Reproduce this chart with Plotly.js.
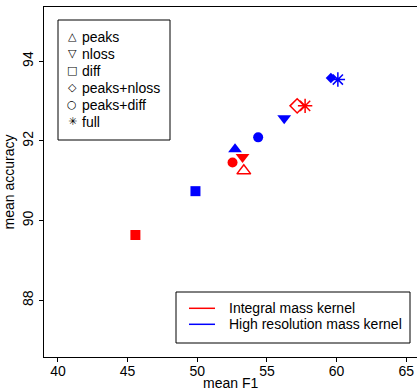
<!DOCTYPE html>
<html>
<head>
<meta charset="utf-8">
<script src="https://cdn.plot.ly/plotly-3.0.1.min.js"></script>
<style>html,body{margin:0;padding:0;background:#fff;}#chart{width:417px;height:391px;}</style>
</head>
<body>
<div id="chart"></div>
<script>
// ---- data ----
const methods = ['peaks', 'nloss', 'diff', 'peaks+nloss', 'peaks+diff', 'full'];
const integralF1  = [53.34, 53.25, 45.56, 57.17, 52.53, 57.74];
const integralAcc = [91.25, 91.60, 89.64, 92.88, 91.46, 92.88];
const highresF1   = [52.71, 56.24, 49.87, 59.59, 54.37, 60.09];
const highresAcc  = [91.79, 92.57, 90.74, 93.58, 92.09, 93.54];
const kernelNames = ['Integral mass kernel', 'High resolution mass kernel'];
const xTicks = [40, 45, 50, 55, 60, 65];
const yTicks = [88, 90, 92, 94];
const xTitle = 'mean F1';
const yTitle = 'mean accuracy';
const legendGlyphs = ['\u25B3', '\u25BD', '\u25A1', '\u25C7', '\u25CB', '\u2733'];

// ---- styles ----
const RED = '#ff0000', BLUE = '#0000ff';
const FONT = 'Liberation Sans, Arial, sans-serif';
const intSymbols = ['triangle-up-open', 'triangle-down', 'square', 'diamond-open', 'circle', 'asterisk-open'];
const intSizes   = [12, 12, 10, 11, 10, 12];
const intLineW   = [1.5, 0, 0, 1.5, 0, 1.5];
const hrSymbols  = ['triangle-up', 'triangle-down', 'square', 'diamond', 'circle', 'asterisk-open'];
const hrSizes    = [12, 12, 10, 8, 10, 12];
const hrLineW    = [0, 0, 0, 0, 0, 1.5];

const W = 417, H = 391, M = {l: 44, r: 0, t: 7, b: 34};
const px = x => (x - M.l) / (W - M.l - M.r);
const py = y => (H - M.b - y) / (H - M.t - M.b);

const traces = [
  {x: integralF1, y: integralAcc, text: methods, type: 'scatter', mode: 'markers', name: kernelNames[0],
   marker: {color: RED, opacity: 1, symbol: intSymbols, size: intSizes, line: {color: RED, width: intLineW}}},
  {x: highresF1, y: highresAcc, text: methods, type: 'scatter', mode: 'markers', name: kernelNames[1],
   marker: {color: BLUE, opacity: 1, symbol: hrSymbols, size: hrSizes, line: {color: BLUE, width: hrLineW}}}
];

const shapes = [];
const annotations = [];
// symbol legend
shapes.push({type: 'rect', xref: 'paper', yref: 'paper', x0: px(58), x1: px(170), y0: py(140), y1: py(20),
             line: {color: '#000', width: 1}, fillcolor: 'rgba(255,255,255,0)'});
methods.forEach((m, i) => {
  const yy = 36.7 + i * 17.05;
  annotations.push({xref: 'paper', yref: 'paper', x: px(72), y: py(yy), text: legendGlyphs[i], showarrow: false,
                    xanchor: 'center', yanchor: 'middle', font: {family: 'DejaVu Sans', size: 11, color: '#000'}});
  annotations.push({xref: 'paper', yref: 'paper', x: px(80), y: py(yy), text: m, showarrow: false,
                    xanchor: 'left', yanchor: 'middle', font: {family: FONT, size: 14, color: '#000'}});
});
// colour legend
shapes.push({type: 'rect', xref: 'paper', yref: 'paper', x0: px(176), x1: px(410), y0: py(343), y1: py(292),
             line: {color: '#000', width: 1}, fillcolor: 'rgba(255,255,255,0)'});
[RED, BLUE].forEach((c, i) => {
  const yy = 308.3 + i * 16;
  shapes.push({type: 'line', xref: 'paper', yref: 'paper', x0: px(189), x1: px(215), y0: py(yy), y1: py(yy),
               line: {color: c, width: 1.5}});
  annotations.push({xref: 'paper', yref: 'paper', x: px(227), y: py(yy), text: kernelNames[i], showarrow: false,
                    xanchor: 'left', yanchor: 'middle', font: {family: FONT, size: 14, color: '#000'}});
});
// x axis title
annotations.push({xref: 'paper', yref: 'paper', x: px(230.5), y: py(382.5), text: xTitle, showarrow: false,
                  borderpad: 0, xanchor: 'center', yanchor: 'middle', font: {family: FONT, size: 14, color: '#000'}});

const layout = {
  width: W, height: H,
  margin: {l: M.l, r: M.r, t: M.t, b: M.b, pad: 0},
  paper_bgcolor: '#fff', plot_bgcolor: '#fff',
  showlegend: false,
  font: {family: FONT, size: 14, color: '#000'},
  xaxis: {range: [39.0, 65.77], tickvals: xTicks, ticktext: xTicks.map(String),
          showgrid: false, zeroline: false, showline: true, mirror: true, linecolor: '#000', linewidth: 1,
          ticks: 'outside', ticklen: 4, tickcolor: '#000', tickfont: {size: 14}, ticklabelstandoff: -3},
  yaxis: {range: [86.58, 95.36], tickvals: yTicks, ticktext: yTicks.map(String), tickangle: -90,
          showgrid: false, zeroline: false, showline: true, mirror: false, linecolor: '#000', linewidth: 1,
          ticks: 'outside', ticklen: 4, tickcolor: '#000', tickfont: {size: 14},
          title: {text: yTitle, font: {size: 14}, standoff: 2}},
  shapes: shapes,
  annotations: annotations
};

Plotly.newPlot('chart', traces, layout, {displayModeBar: false, staticPlot: true});
</script>
</body>
</html>
